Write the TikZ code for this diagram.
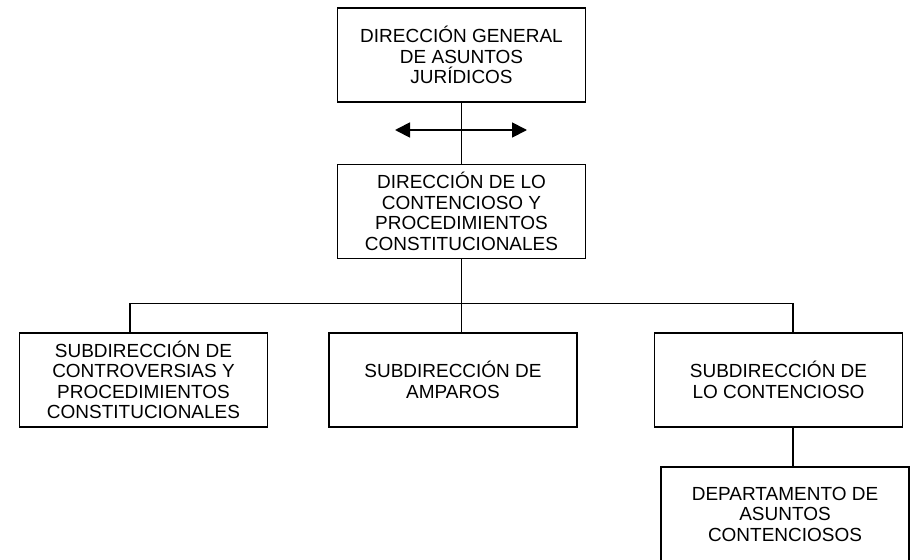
\documentclass[tikz,border=0pt]{standalone}
\usepackage{fontspec}
\setmainfont{Liberation Sans}
\usetikzlibrary{arrows.meta}
\tikzset{
    unidad/.style={draw, line width=1pt, inner sep=0pt, align=center,
        minimum width=6.2cm, minimum height=2.35cm,
        font=\fontsize{13.5}{14.6}\selectfont},
}
\begin{document}
\begin{tikzpicture}[x=0.025cm, y=-0.025cm, line width=1pt]
        \useasboundingbox (0, 0) rectangle (911, 559);
        \clip (0, 0) rectangle (911, 559);
        \node[unidad] (dg) at (461.5, 55) {DIRECCIÓN GENERAL\\DE ASUNTOS\\JURÍDICOS};
        \node[unidad] (dc) at (461.5, 211.5) {DIRECCIÓN DE LO\\CONTENCIOSO Y\\PROCEDIMIENTOS\\CONSTITUCIONALES};
        \node[unidad] (sc) at (143.5, 380) {SUBDIRECCIÓN DE\\CONTROVERSIAS Y\\PROCEDIMIENTOS\\CONSTITUCIONALES};
        \node[unidad] (sa) at (453, 380) {SUBDIRECCIÓN DE\\AMPAROS};
        \node[unidad] (sl) at (778.5, 380) {SUBDIRECCIÓN DE\\LO CONTENCIOSO};
        \node[unidad] (da) at (785, 514) {DEPARTAMENTO DE\\ASUNTOS\\CONTENCIOSOS};
        \coordinate (al) at (395, 130);
        \coordinate (ar) at (527, 130);
        \draw (dg) -- (dc);
        \draw[{Triangle[length=0.375cm, width=0.375cm]}-{Triangle[length=0.375cm, width=0.375cm]}, line width=1.3pt] (al) -- (ar);
        \draw (dc.south) -- (dc.south |- sa.north);
        \draw ([xshift=-0.34cm]sc.north) -- ++(0, -29) -| ([xshift=0.36cm]sl.north);
        \draw ([xshift=0.36cm]sl.south) -- ([xshift=0.36cm]sl.south |- da.north);
    \end{tikzpicture}
\end{document}
